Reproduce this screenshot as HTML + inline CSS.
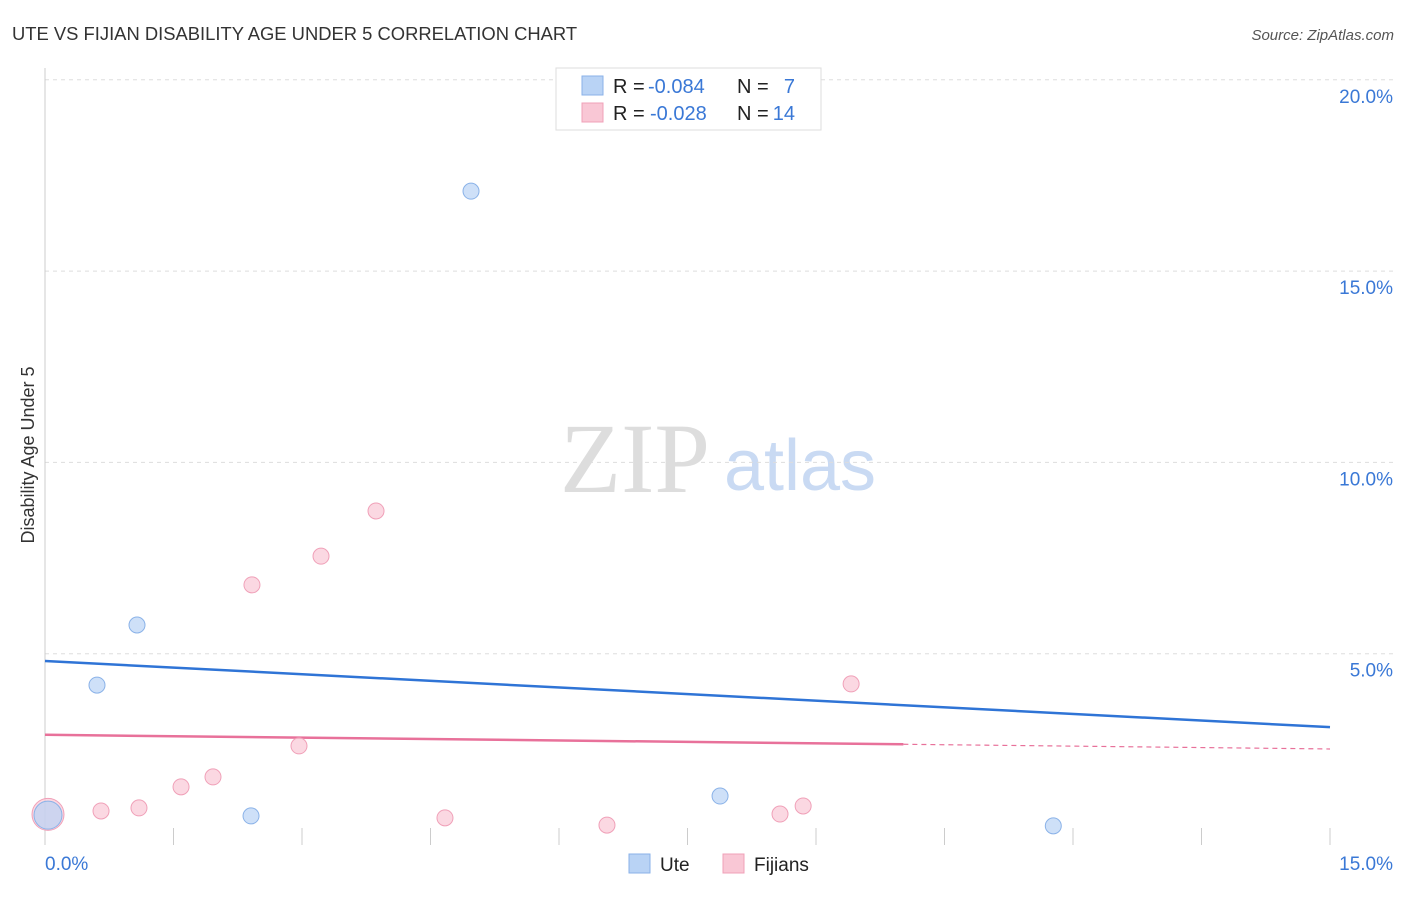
<!DOCTYPE html>
<html><head><meta charset="utf-8"><style>
body{margin:0;background:#fff;font-family:"Liberation Sans",sans-serif;}
svg text{font-family:"Liberation Sans",sans-serif;}
</style></head><body>
<svg id="chart" width="1406" height="892" xmlns="http://www.w3.org/2000/svg">
<text x="12" y="40" font-size="18.4" fill="#333">UTE VS FIJIAN DISABILITY AGE UNDER 5 CORRELATION CHART</text>
<text x="1394" y="40" font-size="15" fill="#555" font-style="italic" text-anchor="end">Source: ZipAtlas.com</text>
<text x="34" y="455" font-size="18" fill="#333" transform="rotate(-90 34 455)" text-anchor="middle">Disability Age Under 5</text>
<g>
<text x="635" y="492" font-size="100" fill="#ddd" style="font-family:'Liberation Serif',serif" text-anchor="middle">ZIP</text>
<text x="800" y="490" font-size="72" fill="#c9daf3" text-anchor="middle">atlas</text>
</g>
<g id="grid"></g><g id="axes"></g><g id="trends"></g><g id="points"></g>
<g>
<rect x="556" y="68" width="265" height="62" fill="#fff" stroke="#ddd"/>
<rect x="582" y="76" width="21" height="19" fill="#b9d3f5" stroke="#8ab2e8"/>
<rect x="582" y="103" width="21" height="19" fill="#f9c7d5" stroke="#f0a0b8"/>
<text x="613" y="93" font-size="20" fill="#222">R =</text>
<text x="648" y="93" font-size="20" fill="#3a78d6">-0.084</text>
<text x="737" y="93" font-size="20" fill="#222">N =</text>
<text x="795" y="93" font-size="20" fill="#3a78d6" text-anchor="end">7</text>
<text x="613" y="120" font-size="20" fill="#222">R =</text>
<text x="650" y="120" font-size="20" fill="#3a78d6">-0.028</text>
<text x="737" y="120" font-size="20" fill="#222">N =</text>
<text x="795" y="120" font-size="20" fill="#3a78d6" text-anchor="end">14</text>
</g>
<g>
<rect x="629" y="854" width="21" height="19" fill="#b9d3f5" stroke="#8ab2e8"/>
<text x="660" y="871" font-size="19" fill="#222">Ute</text>
<rect x="723" y="854" width="21" height="19" fill="#f9c7d5" stroke="#f0a0b8"/>
<text x="754" y="871" font-size="19" fill="#222">Fijians</text>
</g>
</svg>
<script>
const uteX=[0.035,0.607,1.074,2.405,4.973,7.88,11.77];
const uteY=[0.78,4.18,5.75,0.76,17.09,1.28,0.50];
const fijX=[0.035,0.654,1.097,1.588,1.961,2.416,2.965,3.222,3.864,4.669,6.56,8.58,8.85,9.41];
const fijY=[0.80,0.89,0.97,1.52,1.78,6.80,2.59,7.55,8.73,0.71,0.52,0.81,1.02,4.21];
const yTicks=[5,10,15,20];
const yTickLabels=["5.0%","10.0%","15.0%","20.0%"];
const xTickVals=[0,1.5,3,4.5,6,7.5,9,10.5,12,13.5,15];
const uteTrend=[4.81,3.08];
const fijTrend=[2.88,2.51];
const fijSolidEnd=10.02;
const X=v=>45+v/15*1285, Y=v=>845-v*38.26;
const NS="http://www.w3.org/2000/svg";
function mk(p,t,a){const e=document.createElementNS(NS,t);for(const k in a)e.setAttribute(k,a[k]);document.getElementById(p).appendChild(e);return e;}
yTicks.forEach((v,i)=>{
 const l=mk('grid','line',{x1:45,x2:1394,y1:Y(v),y2:Y(v),stroke:'#ddd','stroke-dasharray':'4,4'});
 
 
 const t=mk('grid','text',{x:1393,y:Y(v)+23,'font-size':19,fill:'#3a78d6','text-anchor':'end'});t.textContent=yTickLabels[i];
 
 
});
const ya=mk('axes','line',{x1:45,x2:45,y1:68,y2:845,stroke:'#ccc'});


xTickVals.forEach(v=>{const t=mk('axes','line',{x1:X(v),x2:X(v),y1:828,y2:845,stroke:'#ccc'});
 
 });
const x0=mk('axes','text',{x:45,y:870,'font-size':19,fill:'#3a78d6'});x0.textContent='0.0%';


const x1=mk('axes','text',{x:1393,y:870,'font-size':19,fill:'#3a78d6','text-anchor':'end'});x1.textContent='15.0%';


const ut=mk('trends','line',{x1:X(0),y1:Y(uteTrend[0]),x2:X(15),y2:Y(uteTrend[1]),stroke:'#2f74d6','stroke-width':2.5});


const fyAt=v=>fijTrend[0]+(fijTrend[1]-fijTrend[0])*v/15;
const ft=mk('trends','line',{x1:X(0),y1:Y(fijTrend[0]),x2:X(fijSolidEnd),y2:Y(fyAt(fijSolidEnd)),stroke:'#e8719a','stroke-width':2.5});


const fd=mk('trends','line',{x1:X(fijSolidEnd),y1:Y(fyAt(fijSolidEnd)),x2:X(15),y2:Y(fijTrend[1]),stroke:'#e8719a','stroke-width':1.2,'stroke-dasharray':'5,4'});


fijX.forEach((v,i)=>{const c=mk('points','circle',{cx:X(v),cy:Y(fijY[i]),r:i==0?16:8,fill:'#f9c7d5','fill-opacity':0.7,stroke:'#f0a0b8'});
 
 });
uteX.forEach((v,i)=>{const c=mk('points','circle',{cx:X(v),cy:Y(uteY[i]),r:i==0?14:8,fill:'#b9d3f5','fill-opacity':0.7,stroke:'#8ab2e8'});
 
 });
</script>
</body></html>
